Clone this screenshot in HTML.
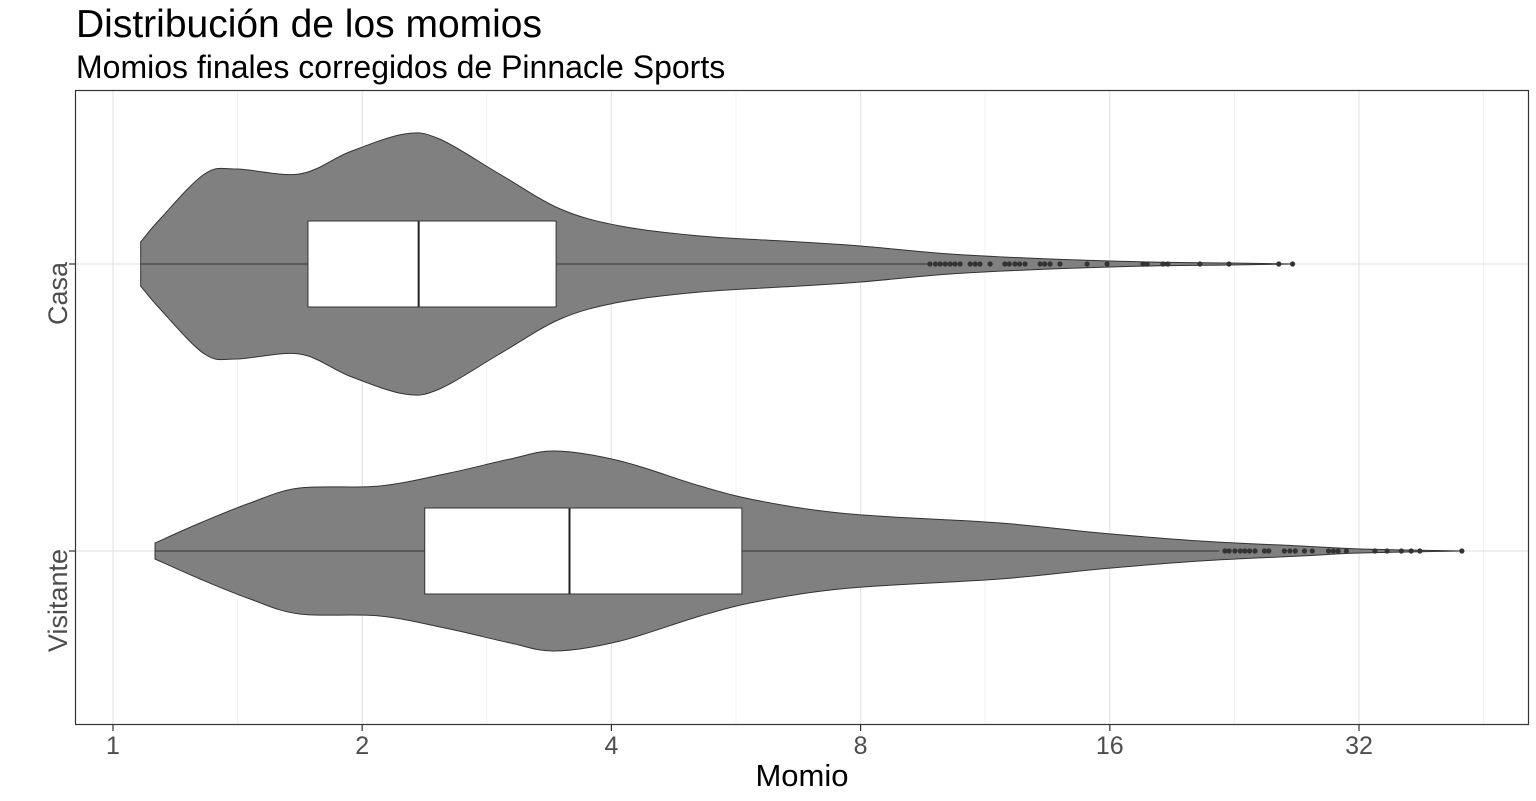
<!DOCTYPE html>
<html><head><meta charset="utf-8"><style>
html,body{margin:0;padding:0;background:#fff;}
svg{display:block;font-family:"Liberation Sans",Arial,sans-serif;}
</style></head><body>
<svg id="chart" width="1536" height="801">
<text x="76" y="37" font-size="39" fill="#000">Distribución de los momios</text>
<text x="76" y="78" font-size="32" fill="#000">Momios finales corregidos de Pinnacle Sports</text>
<g id="grid"></g>
<g id="marks"></g>
<rect x="75.5" y="90.5" width="1453" height="634" fill="none" stroke="#333" stroke-width="1.2"/>
<g id="axes"></g>
<text x="802" y="786" font-size="31" text-anchor="middle" fill="#000">Momio</text>
</svg>
<script>
const categories = ["Casa", "Visitante"];
const xTicks = [1, 2, 4, 8, 16, 32];
const xTickLabels = ["1", "2", "4", "8", "16", "32"];
const minorTicks = [1.414, 2.828, 5.657, 11.31, 22.63, 45.25];
const casaVals = [1.08,1.14,1.29,1.41,1.68,1.93,2.25,2.48,2.93,3.47,4.10,5.12,6.76,8,10.26,13.55,17.9,22.3,26.6];
const casaDens = [22,45,90,95,90,112,130,125,90,55,38,28,22,18,10,5,2,1,0];
const visVals = [1.124,1.274,1.464,1.68,2.10,2.55,3.02,3.42,4.10,5.12,6.05,7.77,11.79,15.57,20.56,27.2,32.1,42.6];
const visDens = [8,28,48,63,65,78,92,100,90,65,50,37,28,18,10,5,2,0];
// box stats: [lowerWhisker, q1, median, q3, upperWhisker]
const casaBox = [1.08, 1.72, 2.34, 3.43, 9.7];
const visBox = [1.124, 2.38, 3.56, 5.75, 21.7];
const casaOut = [9.70,9.85,9.98,10.12,10.26,10.4,10.55,10.85,11.0,11.15,11.47,11.95,12.1,12.29,12.45,12.64,13.18,13.35,13.55,13.93,15.02,15.88,17.55,17.75,18.55,18.8,20.56,22.29,25.6,26.6];
const visOut = [22.04,22.3,22.66,23.0,23.3,23.6,23.96,24.6,24.9,26.0,26.4,26.8,27.5,28.1,29.4,29.8,30.2,30.9,33.45,34.6,36.0,37.0,37.9,42.6];

const NS = "http://www.w3.org/2000/svg";
const X0 = 113, PER = 249.2;
function xs(v){ return X0 + Math.log2(v) * PER; }
const yCenter = {"Casa": 264, "Visitante": 551};
const DSCALE = 130 / Math.max(...casaDens);
function mk(tag, attrs, parent){
  const e = document.createElementNS(NS, tag);
  for (const k in attrs) e.setAttribute(k, attrs[k]);
  parent.appendChild(e); return e;
}
function smooth(pts){
  let d = '';
  for (let i=0;i<pts.length-1;i++){
    const p0 = pts[Math.max(0,i-1)], p1 = pts[i], p2 = pts[i+1], p3 = pts[Math.min(pts.length-1,i+2)];
    const c1x = p1[0]+(p2[0]-p0[0])/6, c1y = p1[1]+(p2[1]-p0[1])/6;
    const c2x = p2[0]-(p3[0]-p1[0])/6, c2y = p2[1]-(p3[1]-p1[1])/6;
    d += ' C'+c1x+','+c1y+' '+c2x+','+c2y+' '+p2[0]+','+p2[1];
  }
  return d;
}
const grid = document.getElementById('grid');
const marks = document.getElementById('marks');
const axes = document.getElementById('axes');

minorTicks.forEach(v=>{
  const x = xs(v); if (x > 1528) return;
  const l = mk('line',{x1:x,x2:x,y1:91,y2:724,stroke:'#f2f2f2','stroke-width':1},grid);
  
  
});
xTicks.forEach(v=>{
  const x = xs(v);
  const l = mk('line',{x1:x,x2:x,y1:91,y2:724,stroke:'#e5e5e5','stroke-width':1.2},grid);
  
  
});
categories.forEach(c=>{
  const y = yCenter[c];
  const l = mk('line',{x1:76,x2:1528,y1:y,y2:y,stroke:'#e5e5e5','stroke-width':1.2},grid);
  
  
});

function violin(cat, vals, dens, box, outs){
  const yc = yCenter[cat];
  const top = vals.map((v,i)=>[xs(v), yc-dens[i]*DSCALE]);
  const bot = vals.map((v,i)=>[xs(v), yc+dens[i]*DSCALE]).reverse();
  const d = 'M'+xs(vals[0])+','+yc+' L'+top[0][0]+','+top[0][1]+smooth(top)+' L'+bot[0][0]+','+bot[0][1]+smooth(bot)+' Z';
  const p = mk('path',{d:d, fill:'#808080', stroke:'#333','stroke-width':1},marks);
  
  
  const w = mk('line',{x1:xs(box[0]),x2:xs(box[4]),y1:yc,y2:yc,stroke:'#333','stroke-width':1},marks);
  
  
  const r = mk('rect',{x:xs(box[1]),y:yc-43,width:xs(box[3])-xs(box[1]),height:86,fill:'#fff',stroke:'#333','stroke-width':1},marks);
  
  
  const m = mk('line',{x1:xs(box[2]),x2:xs(box[2]),y1:yc-43,y2:yc+43,stroke:'#222','stroke-width':2},marks);
  
  
  outs.forEach(v=>{
    const c = mk('circle',{cx:xs(v),cy:yc,r:2.6,fill:'#333'},marks);
    
    
  });
}
violin("Casa", casaVals, casaDens, casaBox, casaOut);
violin("Visitante", visVals, visDens, visBox, visOut);

xTicks.forEach((v,i)=>{
  const x = xs(v);
  const t = mk('line',{x1:x,x2:x,y1:725,y2:731,stroke:'#333','stroke-width':1.2},axes);
  
  
  const l = mk('text',{x:x,y:754,'font-size':25,'text-anchor':'middle',fill:'#4d4d4d'},axes);
  l.textContent = xTickLabels[i];
  
  
});
categories.forEach(c=>{
  const y = yCenter[c];
  const t = mk('line',{x1:69,x2:75,y1:y,y2:y,stroke:'#333','stroke-width':1.2},axes);
  
  
  const l = mk('text',{x:0,y:0,'font-size':27,'text-anchor':'end',fill:'#4d4d4d',transform:'translate(67,'+(y-2)+') rotate(-90)'},axes);
  l.textContent = c;
  
  
});
</script>
</body></html>
